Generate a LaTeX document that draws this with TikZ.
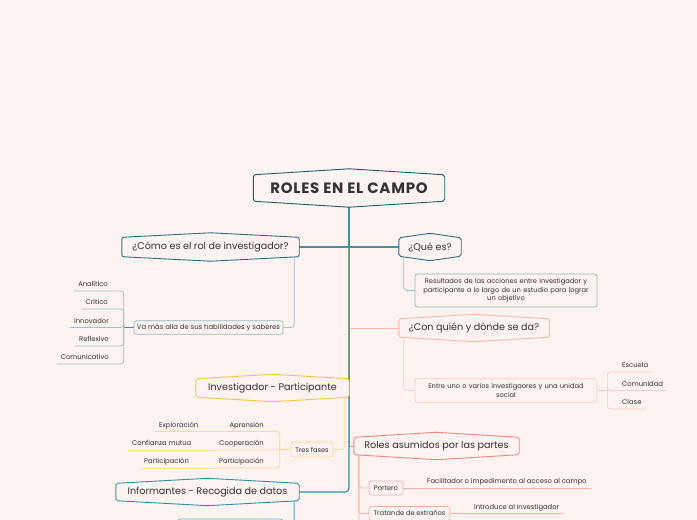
\documentclass[tikz,border=0pt]{standalone}
\usepackage{fontspec}
\setmainfont{Poppins}
\newfontfamily\titlefont[LetterSpace=5]{Poppins}
\definecolor{bg}{HTML}{FDF3F1}
\definecolor{txt}{HTML}{333333}
\definecolor{rootc}{HTML}{1E5F6B}
\definecolor{tealc}{HTML}{2B6F7B}
\definecolor{tealline}{HTML}{4D8F96}
\definecolor{teallt}{HTML}{9DC0C4}
\definecolor{pinkc}{HTML}{F7B4AA}
\definecolor{pinklt}{HTML}{F9CBC4}
\definecolor{goldc}{HTML}{F6C24F}
\definecolor{goldlt}{HTML}{F9D99A}
\definecolor{cyanc}{HTML}{2A93A3}
\definecolor{redc}{HTML}{EE8680}
\definecolor{redlt}{HTML}{F4AFA8}
\newcommand\hexframe[3]{\draw[line width=0.9pt, draw=#2, fill=bg, rounded corners=2pt]
  (#1.north west) -- ([yshift=#3]#1.north) -- (#1.north east) -- (#1.south east)
  -- ([yshift=-#3]#1.south) -- (#1.south west) -- cycle;}
\tikzset{
  hexnode/.style={inner sep=0pt, text=txt, font=\fontsize{9.6}{11}\selectfont},
  subbox/.style={draw, fill=bg, rounded corners=2.5pt, line width=0.7pt, inner sep=0pt,
    align=center, text=txt, font=\fontsize{6.7}{8.2}\selectfont},
  leaf/.style={inner xsep=4pt, inner ysep=4pt, text depth=0pt, text=txt,
    font=\fontsize{6.8}{8}\selectfont},
  conn/.style={line width=1.2pt},
  thin/.style={line width=0.7pt, rounded corners=3pt}
}
\begin{document}
\begin{tikzpicture}[x=1pt,y=-1pt]
\fill[bg] (0,0) rectangle (697,520);
\useasboundingbox (0,0) rectangle (697,520);
\clip (0,0) rectangle (697,520);

% main nodes (placed first, frames drawn later)
\path node[hexnode, minimum width=191pt, minimum height=26pt] (root) at (349,188) {};
\path node[hexnode, minimum width=177pt, minimum height=19pt] (q1) at (210.5,247) {};
\path node[hexnode, minimum width=62pt, minimum height=18pt] (q2) at (430,247) {};
\path node[hexnode, minimum width=150pt, minimum height=18pt] (q3) at (474,328) {};
\path node[hexnode, minimum width=153pt, minimum height=18pt] (q4) at (272.5,388) {};
\path node[hexnode, minimum width=165pt, minimum height=17pt] (q6) at (436.5,446) {};
\path node[hexnode, minimum width=183pt, minimum height=17pt] (q5) at (207.5,492) {};

% trunk connectors
\draw[conn, draw=pinkc, line width=0.9pt] (root.south) |- (q3.west);
\draw[conn, draw=goldc] (root.south) -- (root.south |- q4.east);
\draw[conn, draw=redc, line width=0.9pt] (root.south) |- (q6.west);
\draw[conn, draw=tealline] (root.south) |- (q1.east);
\draw[conn, draw=tealline] (root.south) |- (q2.west);
\draw[conn, draw=cyanc!80!tealline, rounded corners=4pt] (root.south) |- (q5.east);

% frames
\hexframe{root}{rootc}{6pt}
\hexframe{q1}{tealc}{4.5pt}
\hexframe{q2}{tealc}{4.5pt}
\hexframe{q3}{pinkc}{4.5pt}
\hexframe{q4}{goldc}{4.5pt}
\hexframe{q6}{redc}{5pt}
\hexframe{q5}{cyanc}{5pt}
\node[hexnode, font=\titlefont\bfseries\fontsize{15}{17}\selectfont] (roott) at (root) {ROLES EN EL CAMPO};
\node[hexnode] (q1t) at (q1) {¿Cómo es el rol de investigador?};
\node[hexnode] (q2t) at (q2) {¿Qué es?};
\node[hexnode] (q3t) at (q3) {¿Con quién y dónde se da?};
\node[hexnode] (q4t) at (q4) {Investigador - Participante};
\node[hexnode] (q6t) at (q6) {Roles asumidos por las partes};
\node[hexnode] (q5t) at (q5) {Informantes - Recogida de datos};

% sub boxes
\node[subbox, draw=teallt!90!tealc, minimum width=149pt, minimum height=13.5pt, font=\fontsize{6.9}{8}\selectfont] (va) at (208.5,327.5) {Va más alla de sus habilidades y saberes};
\node[subbox, draw=teallt!90!tealc, text width=182pt, minimum height=33pt] (res) at (506,290.5) {Resultados de las acciones entre investigador y\\participante a lo largo de un estudio para lograr\\un objetivo};
\node[subbox, draw=pinklt, text width=182pt, minimum height=23.5pt] (entre) at (506,390.5) {Entre uno o varios investigaores y una unidad\\social};
\node[subbox, draw=goldlt, minimum width=42pt, minimum height=15pt] (tres) at (312,449.5) {Tres fases};
\node[subbox, draw=redlt, minimum width=34pt, minimum height=14pt] (port) at (386,488) {Portero};
\node[subbox, draw=redlt, minimum width=81pt, minimum height=14pt] (trat) at (409.5,513.5) {Tratande de extraños};
\node[subbox, draw=cyanc!70, minimum width=105pt, minimum height=22pt] (inf1) at (230.5,530) {};

% sub connectors
\draw[thin, draw=teallt] ([xshift=-5pt]q1.south east) |- (va.east);
\draw[thin, draw=teallt] ([xshift=5pt]q2.south west) |- (res.west);
\draw[thin, draw=pinklt] ([xshift=5pt]q3.south west) |- (entre.west);
\draw[thin, draw=goldlt] ([xshift=-5pt]q4.south east) |- (tres.east);
\coordinate (q6b) at (359,525);
\draw[thin, draw=redlt] ([xshift=5pt]q6.south west) -- (q6b);
\draw[thin, draw=redlt] ([xshift=5pt]q6.south west) |- (port.west);
\draw[thin, draw=redlt] ([xshift=5pt]q6.south west) |- (trat.west);
\draw[thin, draw=cyanc!80, line width=1pt] ([xshift=-5pt]q5.south east) |- (inf1.east);

% leaves of "Va más alla"
\coordinate (vaj) at ([xshift=-10pt]va.west);
\node[leaf, anchor=south east] (a1) at (112,291) {Analítico};
\node[leaf, anchor=south east] (a2) at (112,309) {Crítico};
\node[leaf, anchor=south east] (a3) at (113,327.5) {Innovador};
\node[leaf, anchor=south east] (a4) at (113,346) {Reflexivo};
\node[leaf, anchor=south east] (a5) at (113,364) {Comunicativo};
\foreach \n in {a1,a2,a3,a4,a5}{\draw[thin, draw=teallt] (\n.south west) -| (vaj);}
\draw[line width=1pt, draw=tealline] (vaj) -- (va.west);

% leaves of "Tres fases"
\coordinate (tj) at ([xshift=-11pt]tres.west);
\node[leaf, anchor=south east] (m1) at (268,431.5) {Aprensión};
\node[leaf, anchor=south east] (m2) at (268,450) {Cooperación};
\node[leaf, anchor=south east] (m3) at (268,468) {Participación};
\node[leaf, anchor=south west] (e1) at (155,431.5) {Exploración};
\node[leaf, anchor=south west] (e2) at (128,450) {Confianza mutua};
\node[leaf, anchor=south west] (e3) at (140,468) {Participación};
\foreach \n in {m1,m2,m3}{\draw[thin, draw=goldlt] (\n.south west) -| (tj);}
\draw[thin, draw=goldlt] (tj) -- (tres.west);
\draw[thin, draw=goldlt] (e1.south west) -- (m1.south west);
\draw[thin, draw=goldlt] (e2.south west) -- (m2.south west);
\draw[thin, draw=goldlt] (e3.south west) -- (m3.south west);

% leaves of "Entre uno..."
\coordinate (ej) at ([xshift=10pt]entre.east);
\node[leaf, anchor=south west] (r1) at (618,372) {Escuela};
\node[leaf, anchor=south west] (r2) at (618,390.5) {Comunidad};
\node[leaf, anchor=south west] (r3) at (618,409) {Clase};
\foreach \n in {r1,r2,r3}{\draw[thin, draw=pinklt] (\n.south east) -| (ej);}
\draw[thin, draw=pinklt] (ej) -- (entre.east);

% leaves of roles
\node[leaf, anchor=south west] (f1) at (423,488) {Facilitador o impedimento al acceso al campo};
\node[leaf, anchor=south west] (t1) at (470,513.5) {Introduce al investigador};
\draw[thin, draw=redlt] (port.east) -- (f1.south east);
\draw[thin, draw=redlt] (trat.east) -- (t1.south east);
\end{tikzpicture}
\end{document}
